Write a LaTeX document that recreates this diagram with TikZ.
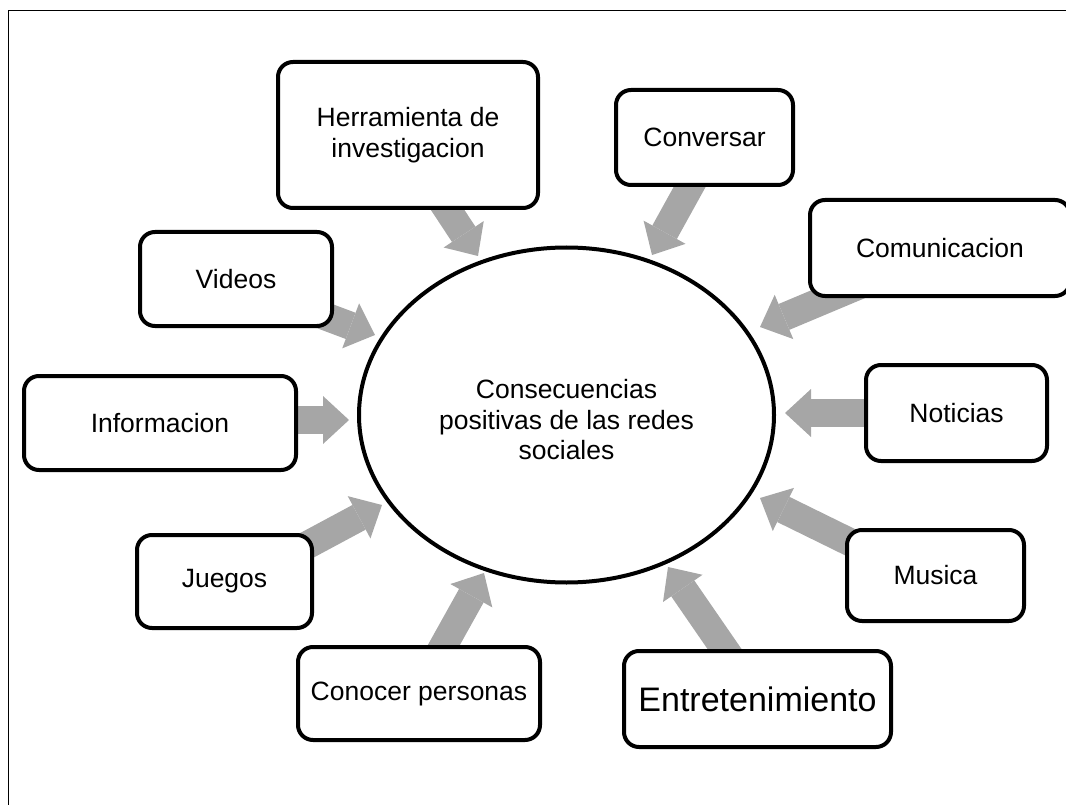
\documentclass[tikz,border=0pt]{standalone}
\usepackage{fontspec}
\setmainfont{Liberation Sans}
\usetikzlibrary{shapes.geometric,arrows.meta}
\definecolor{arrowgray}{RGB}{166,166,166}
\tikzset{
  x=1pt, y=-1pt,
  box/.style={draw=black, line width=4pt, rounded corners=15pt, fill=white,
    inner sep=0pt, align=center, font=\fontsize{26.5}{30.5}\selectfont},
  hub/.style={ellipse, draw=black, line width=4pt, fill=white, inner sep=0pt,
    minimum width=415pt, minimum height=335pt, align=center,
    font=\fontsize{26.5}{30.5}\selectfont},
  blockarrow/.style={draw=arrowgray, line width=28pt,
    -{Triangle[length=26pt,width=48pt,line width=0pt]}},
  frame/.style={draw=black, line width=1.3pt}
}
\begin{document}
\begin{tikzpicture}
\useasboundingbox (0,0) rectangle (1066,805);
\clip (0,0) rectangle (1066,805);
\draw[frame] (8.5,10.5) rectangle (1120,860);

% arrow ends
\coordinate (herr-t) at (434.5,190); \coordinate (herr-h) at (478,256);
\coordinate (conv-t) at (699,170);   \coordinate (conv-h) at (652,255);
\coordinate (comu-t) at (860,285);   \coordinate (comu-h) at (760,327);
\coordinate (vid-t)  at (319,314);   \coordinate (vid-h)  at (375,335);
\coordinate (info-t) at (280,420);   \coordinate (info-h) at (349,420);
\coordinate (noti-t) at (880,413);   \coordinate (noti-h) at (785,413);
\coordinate (jueg-t) at (300,549);   \coordinate (jueg-h) at (382,505);
\coordinate (cono-t) at (432.7,665); \coordinate (cono-h) at (484,573);
\coordinate (entr-t) at (739,670);   \coordinate (entr-h) at (668,567);
\coordinate (musi-t) at (870,552);   \coordinate (musi-h) at (760,498);

\foreach \n in {herr,conv,comu,vid,info,noti,jueg,cono,entr,musi}
  \draw[blockarrow] (\n-t) -- (\n-h);

\node[hub] (center) at (566.5,415) {};
\node[align=center, inner sep=0pt, font=\fontsize{26.5}{30.5}\selectfont] (centertext) at (566.5,420) {Consecuencias\\positivas de las redes\\sociales};

\node[box, minimum width=260pt, minimum height=146pt] (herr) at (408,135) {Herramienta de\\investigacion};
\node[box, minimum width=177pt, minimum height=95pt] (conv) at (704.5,137.5) {Conversar};
\node[box, minimum width=260pt, minimum height=96pt] (comu) at (940,248) {Comunicacion};
\node[box, minimum width=192pt, minimum height=94pt] (vid) at (236,279) {Videos};
\node[box, minimum width=272pt, minimum height=94pt] (info) at (160,423) {Informacion};
\node[box, minimum width=181pt, minimum height=96pt] (noti) at (956.5,413) {Noticias};
\node[box, minimum width=175pt, minimum height=93pt] (jueg) at (224.5,581.5) {Juegos};
\node[box, minimum width=177pt, minimum height=91pt] (musi) at (935.5,575.5) {Musica};
\node[box, minimum width=242pt, minimum height=93pt] (cono) at (419,693.5) {Conocer personas};
\node[box, minimum width=267pt, minimum height=96pt, font=\fontsize{34}{40}\selectfont] (entr) at (757.5,699) {Entretenimiento};
\end{tikzpicture}
\end{document}
